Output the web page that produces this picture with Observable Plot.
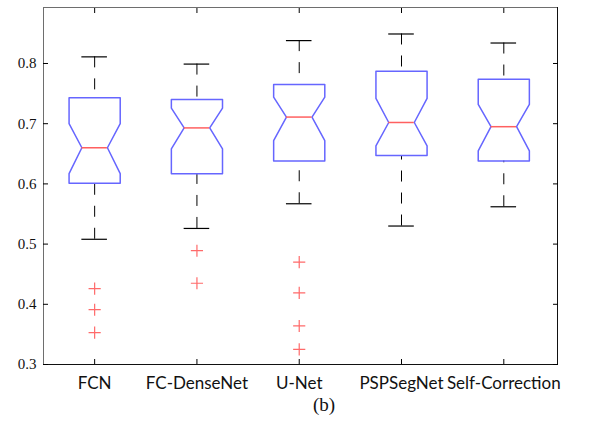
<!DOCTYPE html>
<html>
<head>
<meta charset="utf-8">
<script src="https://cdn.jsdelivr.net/npm/d3@7"></script>
<script src="https://cdn.jsdelivr.net/npm/@observablehq/plot@0.6"></script>
<style>
  body { margin: 0; background: #fff; }
  #chart { position: relative; width: 592px; height: 421px; }
  #caption { position: absolute; left: 0; top: 394px; width: 648px; text-align: center;
    font-family: "Liberation Serif", serif; font-size: 19px; color: #111; }
</style>
</head>
<body>
<div id="chart"><div id="caption">(b)</div></div>
<script>
const categories = ["FCN", "FC-DenseNet", "U-Net", "PSPSegNet", "Self-Correction"];
const whiskerHigh = [0.811, 0.799, 0.838, 0.849, 0.834];
const q3          = [0.743, 0.740, 0.765, 0.787, 0.774];
const notchHigh   = [0.700, 0.726, 0.744, 0.742, 0.732];
const median      = [0.660, 0.693, 0.711, 0.702, 0.695];
const notchLow    = [0.617, 0.658, 0.672, 0.663, 0.655];
const q1          = [0.601, 0.617, 0.638, 0.647, 0.638];
const whiskerLow  = [0.508, 0.526, 0.567, 0.530, 0.562];
const outlierCategory = ["FCN", "FCN", "FCN", "FC-DenseNet", "FC-DenseNet", "U-Net", "U-Net", "U-Net", "U-Net"];
const outlierValue    = [0.426, 0.391, 0.353, 0.489, 0.435, 0.470, 0.419, 0.364, 0.325];
const yTicks = [0.3, 0.4, 0.5, 0.6, 0.7, 0.8];

const BW = 0.25;   // box half-width (x units)
const NW = 0.125;  // notch / cap half-width

const stats = categories.map((c, k) => ({
  c, i: k + 1,
  wh: whiskerHigh[k], q3: q3[k], nh: notchHigh[k], med: median[k],
  nl: notchLow[k], q1: q1[k], wl: whiskerLow[k]
}));

const poly = stats.flatMap(s => [
  [s.i - BW, s.q1], [s.i + BW, s.q1], [s.i + BW, s.nl], [s.i + NW, s.med],
  [s.i + BW, s.nh], [s.i + BW, s.q3], [s.i - BW, s.q3], [s.i - BW, s.nh],
  [s.i - NW, s.med], [s.i - BW, s.nl], [s.i - BW, s.q1]
].map(([x, y]) => ({c: s.c, x, y})));

const outliers = outlierCategory.map((c, k) => ({x: categories.indexOf(c) + 1, y: outlierValue[k]}));

const xTickVals = categories.map((c, k) => k + 1);

const plot = Plot.plot({
  width: 592,
  height: 392,
  marginLeft: 43,
  marginRight: 35,
  marginTop: 7,
  marginBottom: 28,
  x: {domain: [0.5, 5.525], label: null},
  y: {domain: [0.3, 0.893], label: null},
  style: {fontFamily: "'Liberation Serif', serif", background: "#fff"},
  marks: [
    // whiskers
    Plot.ruleX(stats, {x: "i", y1: "wh", y2: "q3", stroke: "#000", strokeWidth: 1, strokeDasharray: "11,11"}),
    Plot.ruleX(stats, {x: "i", y1: "wl", y2: "q1", stroke: "#000", strokeWidth: 1, strokeDasharray: "11,11"}),
    // caps
    Plot.ruleY(stats, {y: "wh", x1: d => d.i - NW, x2: d => d.i + NW, stroke: "#000", strokeWidth: 1.2}),
    Plot.ruleY(stats, {y: "wl", x1: d => d.i - NW, x2: d => d.i + NW, stroke: "#000", strokeWidth: 1.2}),
    // notched boxes
    Plot.line(poly, {x: "x", y: "y", z: "c", stroke: "#6666ff", strokeWidth: 1.5}),
    // medians
    Plot.ruleY(stats, {y: "med", x1: d => d.i - NW, x2: d => d.i + NW, stroke: "#ff6060", strokeWidth: 1.5}),
    // outliers
    Plot.dot(outliers, {x: "x", y: "y", symbol: "plus", r: 4, stroke: "#ff6a6a", strokeWidth: 1.2}),
    // frame
    Plot.frame({anchor: "top", stroke: "#6e6e6e"}),
    Plot.frame({anchor: "left", stroke: "#6e6e6e"}),
    Plot.frame({anchor: "right", stroke: "#111"}),
    Plot.frame({anchor: "bottom", stroke: "#111"}),
    // axes
    Plot.axisY({anchor: "left", ticks: yTicks, tickFormat: ".1f", tickSize: -5, tickPadding: 12,
      fontSize: 15, fill: "#111", label: null}),
    Plot.axisY({anchor: "right", ticks: yTicks, tickFormat: () => "", tickSize: -5, label: null}),
    Plot.axisX({anchor: "bottom", ticks: xTickVals, tickFormat: d => categories[d - 1], tickSize: -5, tickPadding: 17,
      fontFamily: "Lato", fontSize: 17, fill: "#111", label: null}),
    Plot.axisX({anchor: "top", ticks: xTickVals, tickFormat: () => "", tickSize: -5, label: null})
  ]
});
document.getElementById("chart").prepend(plot);
</script>
</body>
</html>
